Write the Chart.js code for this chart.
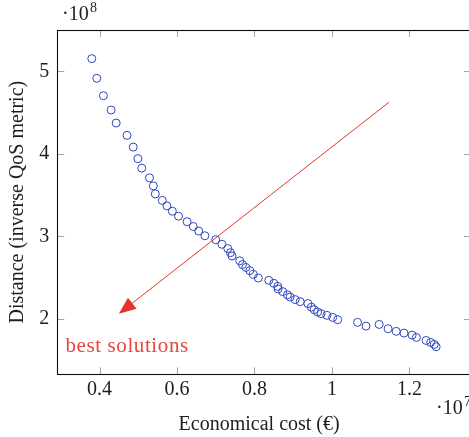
<!DOCTYPE html>
<html>
<head>
<meta charset="utf-8">
<script src="https://cdn.jsdelivr.net/npm/chart.js@4/dist/chart.umd.min.js"></script>
<style>
  html, body { margin: 0; padding: 0; background: #fff; overflow: hidden; }
  #wrap { width: 469px; height: 437px; overflow: hidden; }
</style>
</head>
<body>
<div id="wrap"><canvas id="myChart" width="476" height="437"></canvas></div>
<script>
// Datos: coste en unidades de 10^7 €, distancia en unidades de 10^8
const costs = [
  0.380, 0.393, 0.410, 0.430, 0.443, 0.471, 0.487, 0.499, 0.509, 0.529,
  0.539, 0.544, 0.562, 0.574, 0.588, 0.604, 0.626, 0.642, 0.656, 0.672,
  0.700, 0.716, 0.731, 0.738, 0.742, 0.762, 0.769, 0.778, 0.788, 0.797,
  0.810, 0.837, 0.850, 0.860, 0.861, 0.873, 0.885, 0.892, 0.905, 0.918,
  0.938, 0.947, 0.954, 0.963, 0.972, 0.987, 1.002, 1.015, 1.066, 1.088,
  1.122, 1.145, 1.166, 1.186, 1.207, 1.218, 1.243, 1.255, 1.264, 1.269
];
const distances = [
  5.153, 4.915, 4.704, 4.531, 4.373, 4.224, 4.082, 3.942, 3.827, 3.709,
  3.612, 3.515, 3.436, 3.370, 3.305, 3.245, 3.178, 3.120, 3.065, 3.008,
  2.960, 2.905, 2.853, 2.803, 2.763, 2.705, 2.659, 2.624, 2.586, 2.541,
  2.496, 2.468, 2.432, 2.395, 2.363, 2.331, 2.292, 2.266, 2.235, 2.210,
  2.187, 2.143, 2.113, 2.084, 2.064, 2.044, 2.019, 1.992, 1.959, 1.914,
  1.934, 1.882, 1.850, 1.829, 1.805, 1.777, 1.740, 1.716, 1.692, 1.664
];
const xTicks = [0.4, 0.6, 0.8, 1, 1.2];
const yTicks = [2, 3, 4, 5];
const xExp = "7";
const yExp = "8";
const xTitle = "Economical cost (€)";
const yTitle = "Distance (inverse QoS metric)";
const noteText = "best solutions";

// flecha "best solutions" (coordenadas de datos)
const arrowFrom = [1.147, 4.624];
const arrowTo = [0.450, 2.064];
const notePos = [0.312, 1.668];

const serif = '"Liberation Serif", "DejaVu Serif", serif';
const red = "#e3342b";
const textColor = "#1e1e1e";

const decor = {
  id: "decor",
  afterDatasetsDraw(chart) {
    const {ctx, scales: {x, y}} = chart;
    const x0 = x.getPixelForValue(arrowFrom[0]), y0 = y.getPixelForValue(arrowFrom[1]);
    const x1 = x.getPixelForValue(arrowTo[0]), y1 = y.getPixelForValue(arrowTo[1]);
    const ang = Math.atan2(y1 - y0, x1 - x0);
    const len = 17, half = 7;
    ctx.save();
    ctx.strokeStyle = red;
    ctx.lineWidth = 1;
    ctx.beginPath();
    ctx.moveTo(x0, y0);
    ctx.lineTo(x1 - Math.cos(ang) * (len - 2), y1 - Math.sin(ang) * (len - 2));
    ctx.stroke();
    ctx.fillStyle = red;
    ctx.beginPath();
    ctx.moveTo(x1, y1);
    const bx = x1 - Math.cos(ang) * len, by = y1 - Math.sin(ang) * len;
    ctx.lineTo(bx + Math.sin(ang) * half, by - Math.cos(ang) * half);
    ctx.lineTo(bx - Math.sin(ang) * half, by + Math.cos(ang) * half);
    ctx.closePath();
    ctx.fill();

    ctx.font = "21px " + serif;
    ctx.letterSpacing = "0.6px";
    ctx.fillStyle = "#e6463d";
    ctx.textAlign = "left";
    ctx.textBaseline = "middle";
    ctx.fillText(noteText, x.getPixelForValue(notePos[0]), y.getPixelForValue(notePos[1]));
    ctx.restore();
  },
  afterDraw(chart) {
    const {ctx, chartArea: a, scales: {x, y}} = chart;
    ctx.save();
    // marcas de graduación hacia dentro
    ctx.strokeStyle = "#a6a6a6";
    ctx.lineWidth = 1;
    const tl = 7;
    ctx.beginPath();
    xTicks.forEach(v => {
      const px = Math.round(x.getPixelForValue(v)) + 0.5;
      ctx.moveTo(px, a.bottom); ctx.lineTo(px, a.bottom - tl);
      ctx.moveTo(px, a.top); ctx.lineTo(px, a.top + tl);
    });
    yTicks.forEach(v => {
      const py = Math.round(y.getPixelForValue(v)) + 0.5;
      ctx.moveTo(a.left, py); ctx.lineTo(a.left + tl, py);
      ctx.moveTo(a.right, py); ctx.lineTo(a.right - tl, py);
    });
    ctx.stroke();

    // marco
    ctx.strokeStyle = "#111";
    ctx.lineWidth = 1.1;
    ctx.strokeRect(Math.round(a.left) + 0.5, Math.round(a.top) + 0.5,
      Math.round(a.right - a.left), Math.round(a.bottom - a.top));

    // títulos
    ctx.fillStyle = textColor;
    ctx.font = "20px " + serif;
    ctx.textAlign = "center";
    ctx.textBaseline = "alphabetic";
    ctx.fillText(xTitle, (a.left + a.right) / 2 - 5, 430);
    ctx.save();
    ctx.translate(23, (a.top + a.bottom) / 2);
    ctx.rotate(-Math.PI / 2);
    ctx.fillText(yTitle, 0, 0);
    ctx.restore();

    // exponentes
    ctx.textAlign = "left";
    ctx.font = "20px " + serif;
    ctx.fillText("·10", 62, 20);
    ctx.font = "14px " + serif;
    ctx.fillText(yExp, 90, 12);
    ctx.font = "20px " + serif;
    ctx.fillText("·10", 436, 414);
    ctx.font = "14px " + serif;
    ctx.fillText(xExp, 464, 406);
    ctx.restore();
  }
};

const ctx = document.getElementById("myChart").getContext("2d");
const myChart = new Chart(ctx, {
  type: "scatter",
  data: {
    datasets: [{
      label: "Soluciones",
      data: costs.map((c, i) => ({x: c, y: distances[i]})),
      pointStyle: "circle",
      pointRadius: 4,
      borderWidth: 1,
      borderColor: "#3048bd",
      backgroundColor: "rgba(0,0,0,0)"
    }]
  },
  options: {
    responsive: false,
    animation: false,
    layout: {padding: {top: 30, right: 3.4, left: 0, bottom: 0}},
    plugins: {legend: {display: false}, tooltip: {enabled: false}},
    scales: {
      x: {
        type: "linear",
        min: 0.291,
        max: 1.359,
        afterBuildTicks: s => { s.ticks = xTicks.map(v => ({value: v})); },
        afterFit: s => { s.height = 62.7; },
        grid: {display: false, drawTicks: false},
        border: {display: false},
        ticks: {
          padding: 3,
          color: textColor,
          font: {family: serif, size: 20},
          callback: v => String(v)
        }
      },
      y: {
        type: "linear",
        min: 1.33,
        max: 5.50,
        afterBuildTicks: s => { s.ticks = yTicks.map(v => ({value: v})); },
        afterFit: s => { s.width = 57.3; },
        grid: {display: false, drawTicks: false},
        border: {display: false},
        ticks: {
          padding: 8,
          color: textColor,
          font: {family: serif, size: 20},
          callback: v => String(v)
        }
      }
    }
  },
  plugins: [decor]
});
</script>
</body>
</html>
